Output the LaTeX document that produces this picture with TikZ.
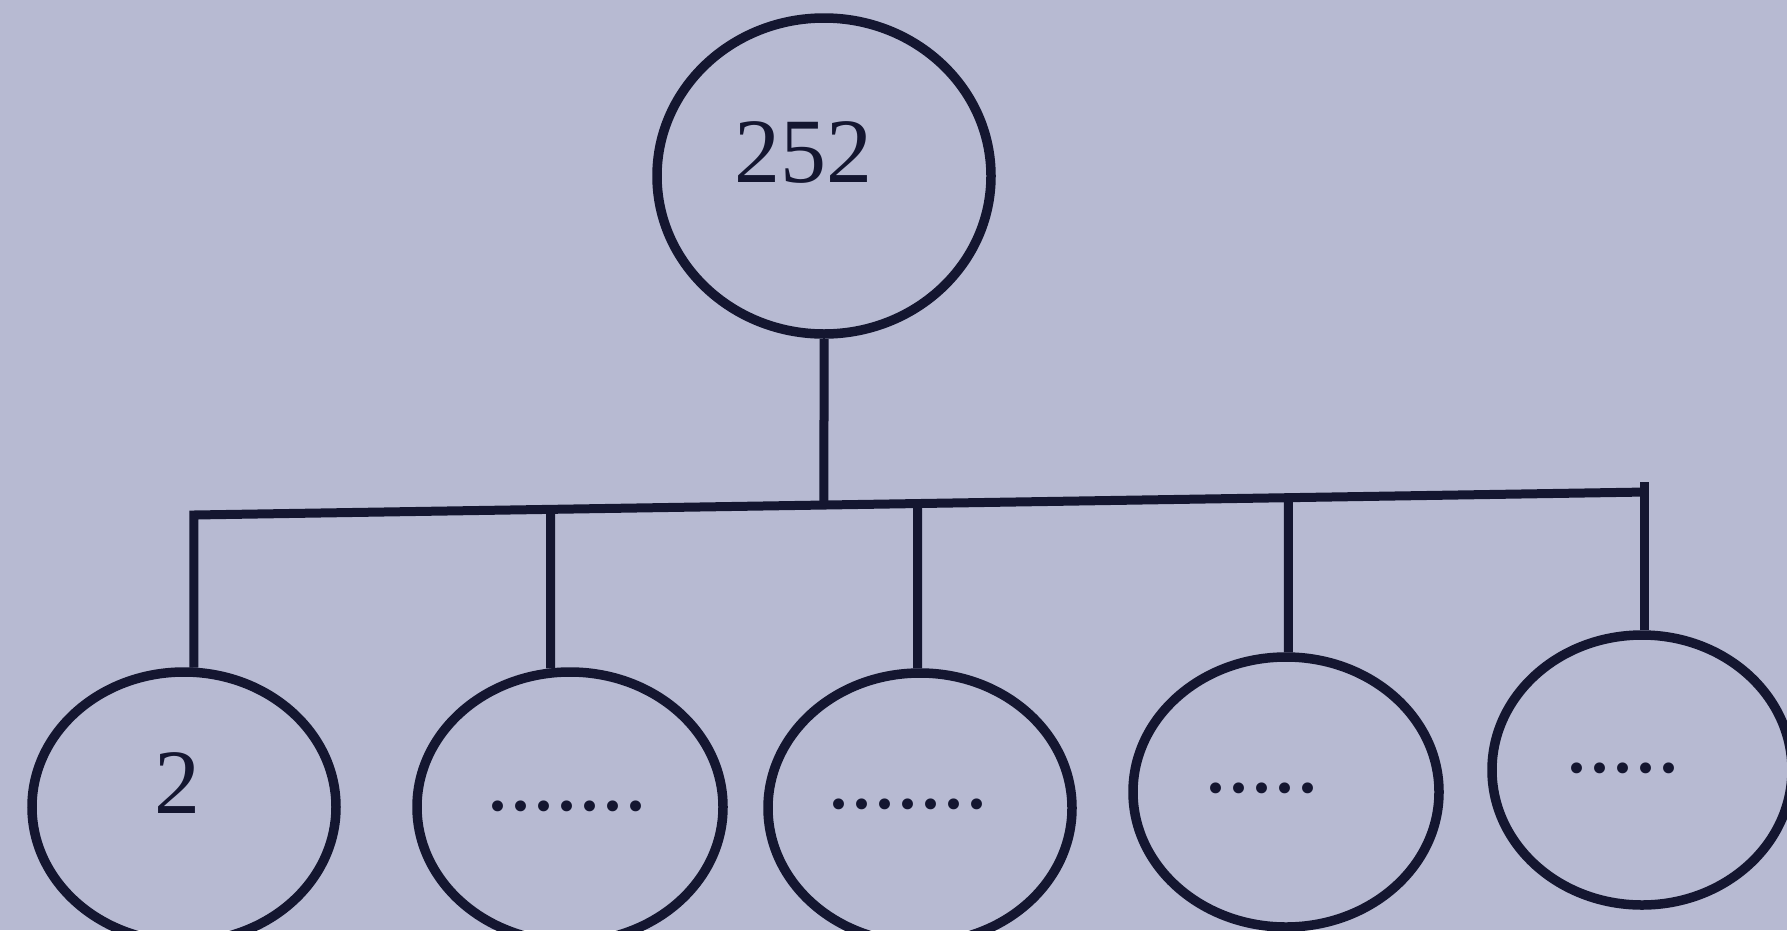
\documentclass[tikz,border=0pt]{standalone}
\usepackage{fontspec}
\setmainfont{Liberation Serif}
\usetikzlibrary{shapes.geometric,calc}
\definecolor{bg}{RGB}{183,186,210}
\definecolor{ink}{RGB}{20,22,48}
\begin{document}
\begin{tikzpicture}[x=1pt,y=-1pt,
  oval/.style={ellipse,draw=ink,line width=9.5pt,inner sep=0pt},
  lbl/.style={text=ink,font=\fontsize{92}{92}\selectfont,inner sep=0pt},
  link/.style={draw=ink,line width=9pt,line join=miter}]
\useasboundingbox (0,0) rectangle (1787,930);
\fill[bg] (0,0) rectangle (1787,930);
\clip (0,0) rectangle (1787,930);

% nodes
\node[oval,minimum width=334pt,minimum height=316pt] (top) at (824,176) {};
\node[oval,minimum width=304pt,minimum height=270pt] (c1) at (184,807) {};
\node[oval,minimum width=306pt,minimum height=270pt] (c2) at (570,807) {};
\node[oval,minimum width=304pt,minimum height=270pt] (c3) at (920,808) {};
\node[oval,minimum width=306pt,minimum height=270pt] (c4) at (1286,792) {};
\node[oval,minimum width=300pt,minimum height=270pt] (c5) at (1642,770) {};

% texts
\node[lbl] (t0) at (803,152) {252};
\node[lbl] (t1) at (177,783) {2};
\node[lbl] (t2) at (567,806) {.......};
\node[lbl] (t3) at (908,804) {.......};
\node[lbl] (t4) at (1262,788) {.....};
\node[lbl] (t5) at (1623,768) {.....};

% bar
\coordinate (L) at (192,515);
\coordinate (R) at (1647,492);
\coordinate (Rt) at (1647,482);

\draw[link] (c1.86.6) -- (c1.86.6 |- L) -- (R);
\draw[link] (top.south) -- (intersection cs: first line={(L)--(R)}, second line={(top.south)--($(top.south)+(0,10)$)});
\draw[link] (c2.98.5) -- (intersection cs: first line={(L)--(R)}, second line={(c2.98.5)--($(c2.98.5)+(0,-10)$)});
\draw[link] (c3.91.3) -- (intersection cs: first line={(L)--(R)}, second line={(c3.91.3)--($(c3.91.3)+(0,-10)$)});
\draw[link] (c4.89) -- (intersection cs: first line={(L)--(R)}, second line={(c4.89)--($(c4.89)+(0,-10)$)});
\draw[link] (c5.89) -- (c5.89 |- Rt);
\end{tikzpicture}
\end{document}
